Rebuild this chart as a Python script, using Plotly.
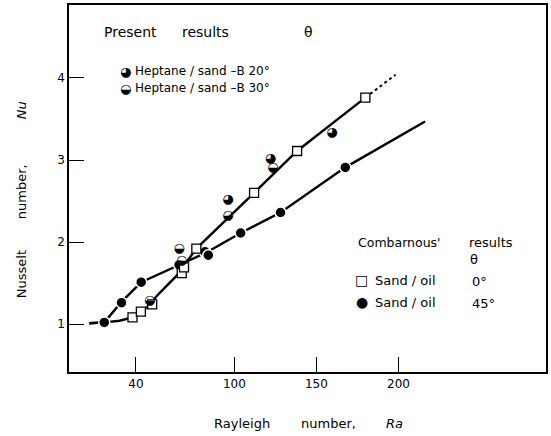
import plotly.graph_objects as go

# Combarnous' results, sand / oil at 0 deg (open squares)
sq_ra = [37.9, 43.0, 49.9, 67.9, 69.3, 76.8, 112.0, 138.2, 179.8]
sq_nu = [1.08, 1.15, 1.24, 1.62, 1.69, 1.92, 2.60, 3.11, 3.76]

# Combarnous' results, sand / oil at 45 deg (filled circles)
fc_ra = [20.7, 31.2, 43.2, 66.3, 82.1, 84.1, 103.8, 128.1, 167.6]
fc_nu = [1.02, 1.26, 1.51, 1.72, 1.88, 1.84, 2.11, 2.36, 2.91]

# Present results, heptane / sand-B at 20 deg
h20_ra = [96.0, 122.0, 159.5]
h20_nu = [2.52, 3.02, 3.33]

# Present results, heptane / sand-B at 30 deg
h30_ra = [48.4, 66.3, 67.9, 96.0, 123.4]
h30_nu = [1.28, 1.92, 1.77, 2.32, 2.90]

# Hand-fitted curves through each Combarnous set
fit0_ra = [11.6, 20.7, 30.0, 37.9, 43.0, 50.0, 52.1, 66.3, 68.5, 76.8, 112.0, 138.2, 179.8]
fit0_nu = [1.01, 1.02, 1.04, 1.08, 1.15, 1.25, 1.33, 1.62, 1.69, 1.92, 2.60, 3.11, 3.76]
fit0_ext_ra = [179.8, 198.2]
fit0_ext_nu = [3.76, 4.04]

fit45_ra = [11.6, 20.7, 31.2, 43.2, 66.3, 82.7, 103.8, 128.1, 167.6, 216.2]
fit45_nu = [1.01, 1.02, 1.27, 1.51, 1.72, 1.87, 2.11, 2.36, 2.91, 3.47]

x_ticks = [40, 100, 150, 200]
y_ticks = [1, 2, 3, 4]

FONT = "DejaVu Sans"
INK = "black"

fig = go.Figure()

fig.add_trace(go.Scatter(x=fit45_ra, y=fit45_nu, mode="lines",
                         line=dict(color=INK, width=2.4), hoverinfo="skip"))
fig.add_trace(go.Scatter(x=fit0_ra, y=fit0_nu, mode="lines",
                         line=dict(color=INK, width=2.4), hoverinfo="skip"))
fig.add_trace(go.Scatter(x=fit0_ext_ra, y=fit0_ext_nu, mode="lines",
                         line=dict(color=INK, width=2, dash="dot"), hoverinfo="skip"))

fig.add_trace(go.Scatter(x=fc_ra, y=fc_nu, mode="markers", name="Sand / oil 45°",
                         marker=dict(symbol="circle", size=11, color=INK,
                                     line=dict(color="white", width=1.5))))
fig.add_trace(go.Scatter(x=sq_ra, y=sq_nu, mode="markers", name="Sand / oil 0°",
                         marker=dict(symbol="square", size=9, color="white",
                                     line=dict(color=INK, width=1.3))))
fig.add_trace(go.Scatter(x=h20_ra, y=h20_nu, mode="text", text=["\u25d5"] * len(h20_ra),
                         textposition="middle center",
                         textfont=dict(family=FONT, size=13, color=INK)))
fig.add_trace(go.Scatter(x=h30_ra, y=h30_nu, mode="text", text=["\u25d2"] * len(h30_ra),
                         textposition="middle center",
                         textfont=dict(family=FONT, size=13, color=INK)))

L, R, T, B = 69, 3, 5, 64
W, H = 551, 436
PW, PH = W - L - R, H - T - B


def px(x):
    return (x - L) / PW


def py(y):
    return (H - B - y) / PH


def note(text, x, y, size=12, xanchor="left", angle=0):
    fig.add_annotation(text=text, x=px(x), y=py(y), xref="paper", yref="paper",
                       xanchor=xanchor, yanchor="middle", showarrow=False,
                       textangle=angle, font=dict(family=FONT, size=size, color=INK))


note("Present", 102, 32, 14)
note("results", 180, 32, 14)
note("\u03b8", 310, 32, 14, "center")
note("\u25d5", 126, 71, 13, "center")
note("Heptane / sand \u2013B 20°", 133, 71, 12)
note("\u25d2", 126, 88, 13, "center")
note("Heptane / sand \u2013B 30°", 133, 88, 12)

note("Combarnous'", 357, 242, 12.5)
note("results", 469, 242, 13)
note("\u03b8", 476, 259, 13, "center")
note("\u25a1", 363, 280, 14, "center")
note("Sand / oil", 374, 280, 13)
note("0°", 472, 281, 13)
note("\u25cf", 363, 302, 14, "center")
note("Sand / oil", 374, 302, 13)
note("45°", 472, 303, 13)

note("Rayleigh", 213, 423, 13)
note("number,", 300, 423, 13)
note("<i>Ra</i>", 385, 423, 13)
note("Nusselt", 21, 274, 13, "center", -90)
note("number,", 21, 192, 13, "center", -90)
note("<i>Nu</i>", 21, 110, 13, "center", -90)

axis_common = dict(showline=True, linecolor=INK, linewidth=1.5, mirror=True,
                   ticks="inside", ticklen=15, tickwidth=1.2, tickcolor=INK,
                   showgrid=False, zeroline=False,
                   tickfont=dict(family=FONT, size=12, color=INK))

fig.update_layout(
    width=W, height=H,
    margin=dict(l=L, r=R, t=T, b=B),
    paper_bgcolor="white", plot_bgcolor="white",
    showlegend=False,
    xaxis=dict(range=[-0.8, 289.9], tickvals=x_ticks, **axis_common),
    yaxis=dict(range=[0.415, 4.89], tickvals=y_ticks, **axis_common),
)

fig.write_html("out.html")
